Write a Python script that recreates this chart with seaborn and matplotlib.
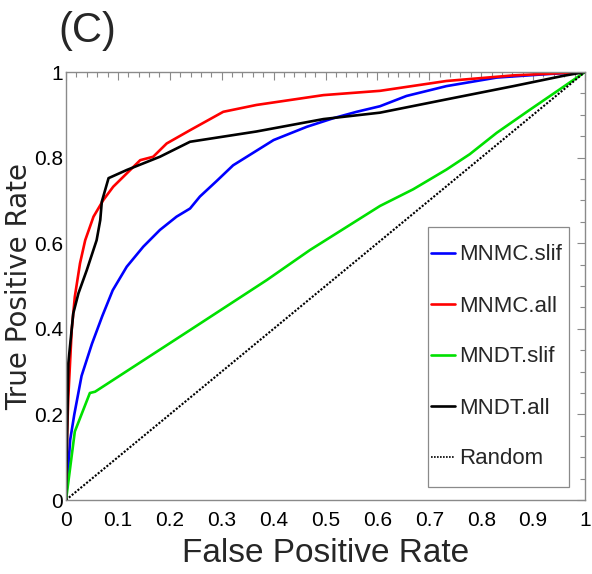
import matplotlib
matplotlib.use("Agg")
import matplotlib.pyplot as plt
from matplotlib.patches import Rectangle
from matplotlib.ticker import MultipleLocator, FuncFormatter
import pandas as pd
import seaborn as sns

# ROC curves (false positive rate, true positive rate) for each method
mnmc_slif_fpr = [0.0, 0.008, 0.016, 0.03, 0.05, 0.07, 0.09, 0.117, 0.149, 0.181, 0.213,
                 0.239, 0.258, 0.29, 0.322, 0.4, 0.464, 0.515, 0.56, 0.605, 0.656,
                 0.733, 0.83, 0.926, 1.0]
mnmc_slif_tpr = [0.0, 0.14, 0.2, 0.29, 0.365, 0.43, 0.49, 0.545, 0.592, 0.631, 0.662,
                 0.681, 0.709, 0.745, 0.782, 0.841, 0.872, 0.892, 0.907, 0.92, 0.944,
                 0.967, 0.987, 0.995, 1.0]

mnmc_all_fpr = [0.0, 0.002, 0.0045, 0.011, 0.017, 0.027, 0.037, 0.053, 0.072, 0.091,
                0.117, 0.143, 0.168, 0.194, 0.239, 0.303, 0.367, 0.496, 0.605, 0.733,
                0.861, 1.0]
mnmc_all_tpr = [0.0, 0.15, 0.241, 0.397, 0.475, 0.553, 0.607, 0.662, 0.701, 0.732,
                0.763, 0.794, 0.802, 0.833, 0.864, 0.907, 0.923, 0.946, 0.956, 0.979,
                0.992, 1.0]

mndt_slif_fpr = [0.0, 0.017, 0.046, 0.056, 0.239, 0.387, 0.47, 0.605, 0.669, 0.733,
                 0.778, 0.83, 0.894, 0.952, 1.0]
mndt_slif_tpr = [0.0, 0.16, 0.25, 0.253, 0.397, 0.514, 0.584, 0.687, 0.726, 0.772,
                 0.808, 0.858, 0.912, 0.96, 1.0]

mndt_all_fpr = [0.0, 0.0045, 0.014, 0.024, 0.04, 0.059, 0.066, 0.069, 0.082, 0.117,
                0.181, 0.239, 0.367, 0.496, 0.605, 0.733, 0.862, 0.958, 1.0]
mndt_all_tpr = [0.0, 0.32, 0.436, 0.483, 0.537, 0.607, 0.654, 0.697, 0.752, 0.771,
                0.802, 0.837, 0.861, 0.89, 0.905, 0.936, 0.967, 0.991, 1.0]

random_fpr = [0.0, 1.0]
random_tpr = [0.0, 1.0]

methods = ["MNMC.slif", "MNMC.all", "MNDT.slif", "MNDT.all", "Random"]
colors = ["#0000ff", "#ff0000", "#00e000", "#000000", "#000000"]
x_ticks = [0, 0.1, 0.2, 0.3, 0.4, 0.5, 0.6, 0.7, 0.8, 0.9, 1]
y_ticks = [0, 0.2, 0.4, 0.6, 0.8, 1]

series = {
    "MNMC.slif": (mnmc_slif_fpr, mnmc_slif_tpr),
    "MNMC.all": (mnmc_all_fpr, mnmc_all_tpr),
    "MNDT.slif": (mndt_slif_fpr, mndt_slif_tpr),
    "MNDT.all": (mndt_all_fpr, mndt_all_tpr),
    "Random": (random_fpr, random_tpr),
}
frames = []
for name in methods:
    fx, ty = series[name]
    frames.append(pd.DataFrame({"fpr": fx, "tpr": ty, "method": name}))
df = pd.concat(frames, ignore_index=True)

sns.set_style("white")
plt.rcParams["font.family"] = ["Liberation Sans", "DejaVu Sans"]

W, H = 592, 574
fig = plt.figure(figsize=(W / 100, H / 100), dpi=100)
ax = fig.add_axes([66 / W, 74 / H, 519 / W, 428 / H])

sns.lineplot(data=df, x="fpr", y="tpr", hue="method", hue_order=methods,
             palette=colors, estimator=None, sort=False,
             linewidth=1.9, ax=ax, legend=True)

# dotted style for the chance diagonal
rand_line = ax.get_lines()[4]
rand_line.set_linestyle((0, (1, 0.8)))
rand_line.set_linewidth(1.5)

ax.set_xlim(0, 1)
ax.set_ylim(0, 1)
ax.set_xticks(x_ticks)
ax.set_yticks(y_ticks)
fmt = FuncFormatter(lambda v, p: "%g" % v)
ax.xaxis.set_major_formatter(fmt)
ax.yaxis.set_major_formatter(fmt)
ax.xaxis.set_minor_locator(MultipleLocator(0.02))
ax.yaxis.set_minor_locator(MultipleLocator(0.05))

spine_c = "#8a8a8a"
for s in ax.spines.values():
    s.set_color(spine_c)
    s.set_linewidth(1.0)
ax.tick_params(which="both", direction="in", top=True, right=True, color=spine_c,
               width=0.8, labelcolor="black")
ax.tick_params(which="major", length=6, labelsize=15)
ax.tick_params(which="minor", length=3.5)
ax.tick_params(axis="x", which="major", pad=8)
ax.tick_params(axis="y", which="major", pad=2)

ax.set_xlabel("False Positive Rate", fontsize=24, labelpad=6)
ax.set_ylabel("True Positive Rate", fontsize=20, family=["DejaVu Sans"], labelpad=1)

# legend box: frame drawn separately so its padding can differ per side
def ax_frac(px, py):
    return (px - 66) / 519, (500 - py) / 428

x0, y0 = ax_frac(428, 487)
x1, y1 = ax_frac(569, 227)
ax.add_patch(Rectangle((x0, y0), x1 - x0, y1 - y0, transform=ax.transAxes,
                       facecolor="white", edgecolor=spine_c, linewidth=0.9, zorder=4))

leg = ax.legend(loc="center left", bbox_to_anchor=ax_frac(431, 357),
                borderaxespad=0, fontsize=16, handlelength=1.1, handletextpad=0.15,
                labelspacing=1.35, borderpad=0, frameon=False)
leg.set_zorder(5)
for h in leg.get_lines()[4:]:
    h.set_linestyle((0, (1, 0.8)))
    h.set_linewidth(1.2)

fig.text(58 / W, 1 - 42 / H, "(C)", fontsize=30, va="baseline", ha="left")

fig.savefig("out.png", dpi=100, facecolor="white")
